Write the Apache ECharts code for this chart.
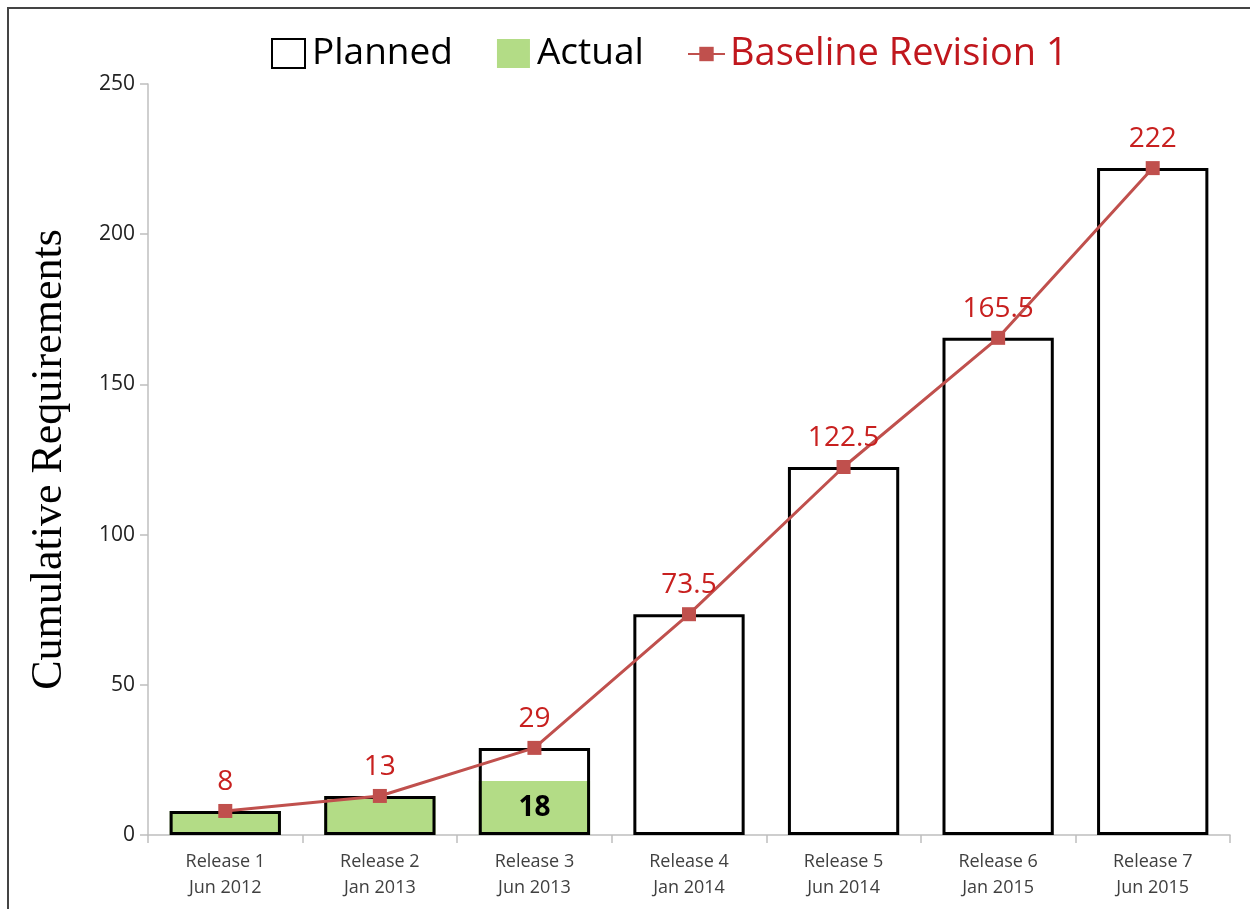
<!DOCTYPE html>
<html><head><meta charset="utf-8">
<script src="https://cdn.jsdelivr.net/npm/echarts@6/dist/echarts.min.js"></script>
<style>html,body{margin:0;padding:0;background:#fff}#c{width:1250px;height:909px}</style>
</head><body><div id="c"></div>
<script>
const categories = ['Release 1\nJun 2012','Release 2\nJan 2013','Release 3\nJun 2013','Release 4\nJan 2014','Release 5\nJun 2014','Release 6\nJan 2015','Release 7\nJun 2015'];
const planned = [8, 13, 29, 73.5, 122.5, 165.5, 222];
const actual = [8, 13, 18, null, null, null, null];
const baseline = [8, 13, 29, 73.5, 122.5, 165.5, 222];
const actualLabelIndex = 2;

const chart = echarts.init(document.getElementById('c'));
const font = '"Open Sans", Carlito, "Liberation Sans", sans-serif';
chart.setOption({
  animation: false,
  graphic: [{type:'polyline', shape:{points:[[8,909],[8,8],[1250,8]]}, style:{stroke:'#444', lineWidth:2, fill:null}}],
  legend: [{
    top: 30, left: 266, itemGap: 44, itemWidth: 33, itemHeight: 29,
    textStyle: {fontFamily: font, fontSize: 37, padding:[0,0,0,2]},
    data: [
      {name:'Planned', icon:'rect', textStyle:{color:'#000'}},
      {name:'Actual', icon:'rect', textStyle:{color:'#000'}}
    ]
  }, {
    top: 30, left: 682, itemWidth: 37, itemHeight: 18,
    textStyle: {fontFamily: font, fontSize: 38, padding:[0,0,0,0]},
    data: [
      {name:'Baseline Revision 1', textStyle:{color:'#c0171d'}}
    ]
  }],
  grid: {left: 148, right: 20, top: 84, bottom: 74},
  xAxis: {
    type:'category', data: categories,
    axisLine:{lineStyle:{color:'#bfbfbf', width:1.5}},
    axisTick:{show:true, length:8, lineStyle:{color:'#bfbfbf', width:1.5}},
    axisLabel:{fontFamily: font, fontSize:18, color:'#404040', lineHeight:26, margin:14}
  },
  yAxis: {
    type:'value', min:0, max:250, interval:50,
    name:'Cumulative Requirements', nameLocation:'middle', nameGap:77,
    nameTextStyle:{fontFamily:'"Liberation Serif","Times New Roman",serif', fontSize:44, color:'#000'},
    axisLine:{show:true, lineStyle:{color:'#bfbfbf', width:1.5}},
    axisTick:{show:true, length:8, lineStyle:{color:'#bfbfbf', width:1.5}},
    splitLine:{show:false},
    axisLabel:{fontFamily: font, fontSize:21, color:'#222', margin:13}
  },
  series: [
    {
      name:'Actual', type:'bar', data: actual, barWidth:'72%', barGap:'-100%', z:2,
      itemStyle:{color:'#b3dc86'},
      label:{show:true, position:'inside', fontFamily:font, fontSize:28, fontWeight:'bold', color:'#000',
        formatter: p => p.dataIndex === actualLabelIndex ? String(p.value) : ''}
    },
    {
      name:'Planned', type:'bar', data: planned, barWidth:'72%', z:3,
      itemStyle:{color:'rgba(0,0,0,0)', borderColor:'#000', borderWidth:3}
    },
    {
      name:'Baseline Revision 1', type:'line', data: baseline, z:5,
      symbol:'rect', symbolSize:14,
      lineStyle:{color:'#c0504d', width:3},
      itemStyle:{color:'#c0504d'},
      label:{show:true, position:'top', distance:8, fontFamily:font, fontSize:28, color:'#c8201f'}
    }
  ]
});
</script></body></html>
